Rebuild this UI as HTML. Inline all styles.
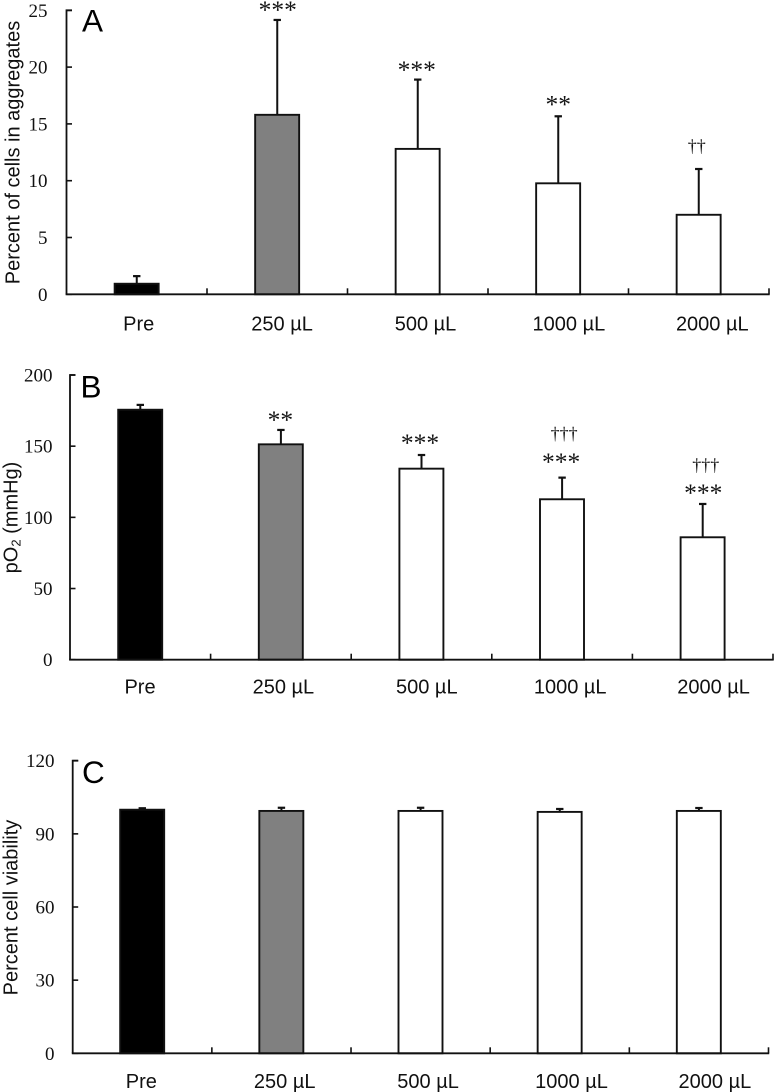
<!DOCTYPE html>
<html lang="en">
<head>
<meta charset="utf-8">
<title>Cell aggregates, pO2 and viability bar charts</title>
<style>
  html, body { margin: 0; padding: 0; background: #fff; }
  body { width: 774px; height: 1092px; overflow: hidden; }
  svg { display: block; filter: blur(0.3px); }
  .tick { font-family: "Liberation Serif", serif; font-size: 19px; fill: #111; text-anchor: end; }
  .cat { font-family: "Liberation Sans", sans-serif; font-size: 20px; fill: #111; text-anchor: middle; }
  .title { font-family: "Liberation Sans", sans-serif; font-size: 20px; fill: #111; text-anchor: middle; }
  .letter { font-family: "Liberation Sans", sans-serif; font-size: 31.5px; fill: #000; }
  .stars { font-family: "Liberation Serif", serif; font-size: 25.5px; fill: #111; text-anchor: middle; }
  .dag { font-family: "Liberation Serif", serif; font-size: 18px; fill: #111; text-anchor: middle; }
</style>
</head>
<body>
<svg id="fig" width="774" height="1092" viewBox="0 0 774 1092" xmlns="http://www.w3.org/2000/svg">
  <text class="title" transform="translate(19.5,152.5) rotate(-90)">Percent of cells in aggregates</text>
  <text class="title" transform="translate(17.5,517.5) rotate(-90)">pO<tspan font-size="13" dy="3">2</tspan><tspan dy="-3"> (mmHg)</tspan></text>
  <text class="title" transform="translate(17.5,907.5) rotate(-90)">Percent cell viability</text>
  <text class="letter" x="82" y="31.5">A</text>
  <text class="letter" x="80.5" y="397.5">B</text>
  <text class="letter" x="82" y="783">C</text>
</svg>
<script>
// Shared categories
const categories = ['Pre', '250 µL', '500 µL', '1000 µL', '2000 µL'];
const barFills = ['#000000', '#808080', '#ffffff', '#ffffff', '#ffffff'];

// Panel A: percent of cells in aggregates
const aValues = [0.93, 15.8, 12.8, 9.77, 7.0];
const aErrors = [0.67, 8.35, 6.1, 5.9, 4.03];
const aTicks = [0, 5, 10, 15, 20, 25];

// Panel B: pO2 (mmHg)
const bValues = [175.6, 151.3, 134.2, 112.7, 86];
const bErrors = [3.4, 10.1, 9.6, 15.2, 23.4];
const bTicks = [0, 50, 100, 150, 200];

// Panel C: percent cell viability
const cValues = [99.9, 99.4, 99.4, 99.0, 99.4];
const cErrors = [0.6, 1.3, 1.3, 1.2, 1.2];
const cTicks = [0, 30, 60, 90, 120];

// Significance marks: one string per bar
const aStars = ['', '***', '***', '**', ''];
const aDaggers = ['', '', '', '', '††'];
const bStars = ['', '**', '***', '***', '***'];
const bDaggers = ['', '', '', '†††', '†††'];
const cStars = ['', '', '', '', ''];
const cDaggers = ['', '', '', '', ''];

const SVG_NS = 'http://www.w3.org/2000/svg';
const fig = document.getElementById('fig');

function make(tag, attrs, parent) {
  const el = document.createElementNS(SVG_NS, tag);
  for (const k in attrs) el.setAttribute(k, attrs[k]);
  parent.appendChild(el);
  return el;
}

function drawPanel(p) {
  const yScale = v => p.y0 + (p.yTop - p.y0) * (v / p.yMax);
  const step = (p.xEnd - p.x0) / p.values.length;
  const xCenter = i => p.x0 + step * (i + 0.5);

  const group = make('g', {}, fig);
  
  

  p.values.forEach((v, i) => {
    const cx = xCenter(i);
    const yv = yScale(v);
    const yErr = yScale(v + p.errors[i]);

    const stem = make('line', {
      x1: cx, x2: cx, y1: yv, y2: yErr, stroke: '#111', 'stroke-width': 2
    }, group);
    
    

    const cap = make('line', {
      x1: cx - 3.7, x2: cx + 3.7, y1: yErr, y2: yErr, stroke: '#111', 'stroke-width': 2.2
    }, group);
    
    

    const bar = make('rect', {
      x: cx - 22.1, y: yv, width: 44, height: p.y0 - yv,
      fill: barFills[i], stroke: '#111', 'stroke-width': 1.9
    }, group);
    
    

    const catLabel = make('text', { class: 'cat', x: p.labelStart + p.labelStep * i, y: p.labelY }, group);
    catLabel.textContent = categories[i];
    
    

    if (p.stars[i]) {
      const s = make('text', { class: 'stars', x: cx + p.starDx[i], y: yErr - p.starGap[i] }, group);
      s.textContent = p.stars[i];
      
      
    }
    if (p.daggers[i]) {
      const d = make('text', { class: 'dag', x: cx + p.daggerDx[i], y: yErr - p.daggerGap[i] }, group);
      d.textContent = p.daggers[i];
      
      
    }
  });

  // Axes
  const yAxis = make('path', {
    d: 'M' + (p.x0 + 5.5) + ' ' + p.yTop + 'H' + p.x0 + 'V' + p.y0,
    fill: 'none', stroke: '#111', 'stroke-width': 1.8
  }, group);
  
  

  const xAxis = make('line', {
    x1: p.x0 - 0.9, x2: p.xEnd + 0.7, y1: p.y0, y2: p.y0, stroke: '#111', 'stroke-width': 1.8
  }, group);
  
  

  p.values.forEach((v, i) => {
    const tx = p.x0 + step * (i + 1);
    const t = make('line', { x1: tx, x2: tx, y1: p.y0, y2: p.y0 - 6, stroke: '#111', 'stroke-width': 1.6 }, group);
    
    
  });

  p.ticks.forEach(tv => {
    const ty = yScale(tv);
    const t = make('line', { x1: p.x0, x2: p.x0 + 5.5, y1: ty, y2: ty, stroke: '#111', 'stroke-width': 1.6 }, group);
    
    

    const lab = make('text', { class: 'tick', x: p.tickRight, y: ty + 6.5 }, group);
    lab.textContent = tv;
    
    
  });
}

drawPanel({
  id: 'a', values: aValues, errors: aErrors, ticks: aTicks, stars: aStars, daggers: aDaggers,
  yMax: 25, x0: 66.5, xEnd: 769, y0: 294.3, yTop: 10.3,
  starGap: [0, 2, 1.5, 4, 0], starDx: [0, 0.5, -1, 0, 0],
  daggerGap: [0, 0, 0, 0, 17], daggerDx: [0, 0, 0, 0, -2],
  tickRight: 47.5, labelStart: 138.7, labelStep: 143.4, labelY: 330.5
});
drawPanel({
  id: 'b', values: bValues, errors: bErrors, ticks: bTicks, stars: bStars, daggers: bDaggers,
  yMax: 200, x0: 70, xEnd: 773, y0: 659.7, yTop: 375,
  starGap: [0, 2, 4, 7.5, 3], starDx: [0, -0.5, -1.5, -1, 0.5],
  daggerGap: [0, 0, 0, 38, 33], daggerDx: [0, 0, 0, 2, 3],
  tickRight: 52.5, labelStart: 140, labelStep: 143.4, labelY: 693.5
});
drawPanel({
  id: 'c', values: cValues, errors: cErrors, ticks: cTicks, stars: cStars, daggers: cDaggers,
  yMax: 120, x0: 72.7, xEnd: 768.5, y0: 1053.3, yTop: 760.7,
  starGap: [0, 0, 0, 0, 0], starDx: [0, 0, 0, 0, 0],
  daggerGap: [0, 0, 0, 0, 0], daggerDx: [0, 0, 0, 0, 0],
  tickRight: 54.5, labelStart: 141.3, labelStep: 143.4, labelY: 1088
});
</script>
</body>
</html>
